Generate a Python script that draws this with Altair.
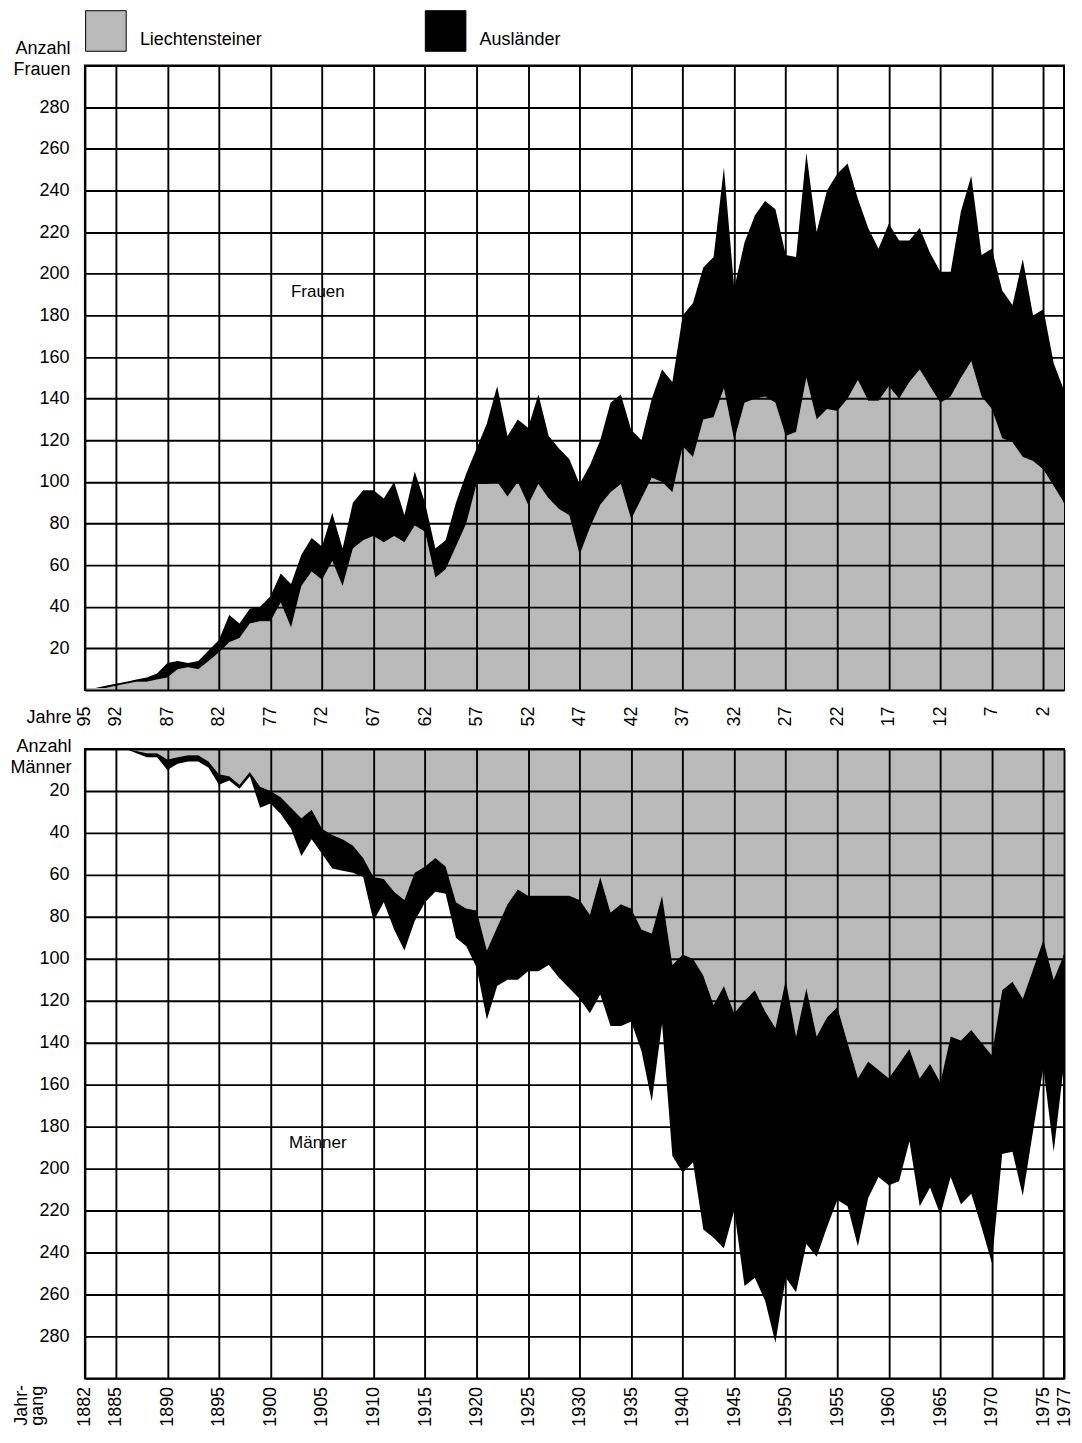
import altair as alt
import pandas as pd

FONT = "Liberation Sans"
GRAY = "#b9b9b9"

years = list(range(1882, 1978))

# Frauen (women) by year of birth 1882..1977
frauen_liechtensteiner = [
    1, 1, 1, 2, 3, 4, 4, 5, 6, 10,
    11, 10, 14, 18, 23, 25, 32, 33, 33, 42,
    30, 50, 57, 53, 62, 50, 68, 72, 74, 71,
    74, 71, 79, 76, 54, 58, 69, 80, 99, 99,
    100, 93, 100, 89, 99, 92, 87, 84, 65, 78,
    89, 95, 99, 82, 92, 102, 100, 95, 117, 112,
    130, 131, 145, 120, 138, 140, 141, 138, 122, 124,
    150, 130, 135, 134, 140, 149, 139, 139, 146, 140,
    148, 154, 146, 138, 141, 150, 158, 141, 135, 121,
    119, 112, 110, 106, 98, 90,
]
frauen_auslaender = [
    0, 0, 1, 1, 1, 1, 2, 3, 7, 4,
    2, 4, 5, 6, 13, 7, 7, 7, 12, 14,
    21, 15, 16, 16, 23, 18, 22, 24, 22, 21,
    26, 13, 26, 14, 14, 14, 21, 24, 17, 29,
    46, 29, 30, 37, 43, 30, 29, 27, 34, 30,
    31, 43, 43, 43, 28, 38, 54, 53, 63, 74,
    73, 77, 106, 73, 77, 88, 94, 93, 87, 84,
    108, 90, 105, 114, 113, 87, 83, 73, 78, 76,
    68, 68, 64, 63, 60, 80, 89, 68, 77, 71,
    66, 95, 70, 77, 59, 54,
]

# Maenner (men)
maenner_liechtensteiner = [
    0, 0, 0, 0, 0, 1, 2, 2, 5, 4,
    3, 3, 6, 12, 13, 17, 11, 18, 20, 23,
    28, 33, 29, 38, 41, 43, 46, 52, 61, 62,
    68, 72, 59, 56, 52, 56, 73, 76, 77, 96,
    85, 74, 67, 70, 70, 70, 70, 70, 72, 79,
    61, 78, 74, 76, 86, 88, 70, 103, 98, 100,
    108, 122, 113, 126, 120, 115, 125, 133, 110, 137,
    114, 137, 128, 123, 140, 157, 149, 153, 157, 150,
    143, 157, 150, 159, 137, 139, 134, 140, 146, 115,
    111, 119, 105, 91, 110, 98,
]
maenner_auslaender = [
    0, 0, 0, 0, 0, 1, 2, 2, 5, 3,
    3, 3, 3, 5, 2, 2, 2, 10, 6, 8,
    10, 18, 14, 12, 16, 15, 13, 9, 21, 11,
    18, 24, 23, 17, 16, 13, 17, 18, 27, 33,
    28, 36, 43, 36, 36, 33, 39, 44, 47, 47,
    56, 54, 58, 54, 58, 80, 61, 91, 104, 97,
    121, 111, 125, 94, 136, 137, 138, 150, 142, 122,
    122, 105, 100, 92, 78, 80, 65, 51, 51, 56,
    44, 61, 59, 63, 67, 78, 78, 88, 99, 78,
    81, 94, 77, 61, 82, 52,
]

groups = ["Liechtensteiner", "Ausländer"]
x_grid = [1882] + list(range(1885, 1976, 5))
x_grid_bottom = x_grid + [1977]
y_grid = list(range(0, 301, 20))


def long_df(liecht, ausl):
    rows = []
    for y, l, a in zip(years, liecht, ausl):
        rows.append({"Jahrgang": y, "Gruppe": groups[0], "Anzahl": l, "ord": 0})
        rows.append({"Jahrgang": y, "Gruppe": groups[1], "Anzahl": a, "ord": 1})
    return pd.DataFrame(rows)


df_f = long_df(frauen_liechtensteiner, frauen_auslaender)
df_m = long_df(maenner_liechtensteiner, maenner_auslaender)
lab_f = pd.DataFrame({"Jahrgang": [1904.6], "Anzahl": [191], "t": ["Frauen"]})
lab_m = pd.DataFrame({"Jahrgang": [1904.6], "Anzahl": [188], "t": ["Männer"]})

color_scale = alt.Scale(domain=groups, range=[GRAY, "#000000"])

common_axis = dict(
    ticks=False, domain=False, grid=True, gridColor="black", gridWidth=1.9,
    gridOpacity=1, labelFont=FONT, labelFontSize=18, labelColor="black",
    titleFont=FONT, titleFontSize=18, titleFontWeight="normal", titleColor="black",
    labelFlush=False, labelOverlap=False, zindex=1,
)

x_top = alt.Axis(
    values=x_grid, labelExpr="'' + (1977 - datum.value)", labelAngle=270,
    labelPadding=16, title="Jahre", titleAngle=0, titleAlign="right",
    titleBaseline="middle", titleX=-14, titleY=28, **common_axis)
x_bot = alt.Axis(
    values=x_grid_bottom, format="d", labelAngle=270, labelPadding=8,
    title=["Jahr-", "gang"], titleAngle=270, titleAlign="left",
    titleBaseline="top", titleX=-72, titleY=47, titleLineHeight=16, **common_axis)
ylab = "datum.value == 0 || datum.value == 300 ? '' : datum.label"
y_top = alt.Axis(
    values=y_grid, labelExpr=ylab, labelPadding=16, title=["Anzahl", "Frauen"],
    titleAngle=0, titleAlign="right", titleBaseline="bottom", titleX=-15,
    titleY=-8, titleLineHeight=21, **common_axis)
y_bot = alt.Axis(
    values=y_grid, labelExpr=ylab, labelPadding=16, title=["Anzahl", "Männer"],
    titleAngle=0, titleAlign="right", titleBaseline="bottom", titleX=-14,
    titleY=7, titleLineHeight=21, **common_axis)

legend_top = alt.Legend(
    orient="none", legendX=0, legendY=-56, direction="horizontal", title=None,
    symbolType="square", symbolSize=1650, symbolStrokeColor="black",
    symbolStrokeWidth=1, symbolOpacity=1, labelFont=FONT, labelFontSize=18,
    labelColor="black", labelOffset=13, columnPadding=160, labelBaseline="top",
    padding=0,
)


def panel(df, lab, reverse, height, xaxis, yaxis, legend):
    xs = alt.Scale(domain=[1882, 1977], nice=False, zero=False)
    ys = alt.Scale(domain=[0, 300], nice=False, reverse=reverse)
    area = alt.Chart(df).mark_area(interpolate="linear", opacity=1).encode(
        x=alt.X("Jahrgang:Q", scale=xs, axis=xaxis),
        y=alt.Y("Anzahl:Q", stack="zero", scale=ys, axis=yaxis),
        color=alt.Color("Gruppe:N", scale=color_scale, legend=legend),
        order=alt.Order("ord:Q"),
    )
    text = alt.Chart(lab).mark_text(font=FONT, fontSize=17, color="black").encode(
        x=alt.X("Jahrgang:Q", scale=xs),
        y=alt.Y("Anzahl:Q", scale=ys),
        text="t:N",
    )
    return alt.layer(area, text).properties(width=980, height=height)


top = panel(df_f, lab_f, False, 625, x_top, y_top, legend_top)
bottom = panel(df_m, lab_m, True, 630, x_bot, y_bot, None)

chart = alt.vconcat(top, bottom, spacing=9).resolve_scale(
    color="independent").resolve_legend(color="independent").properties(
    padding={"left": 0, "top": 0, "right": 0, "bottom": 0}
).configure_view(stroke="black", strokeWidth=2)

chart.save("out.html", embed_options={"renderer": "svg", "actions": False})
